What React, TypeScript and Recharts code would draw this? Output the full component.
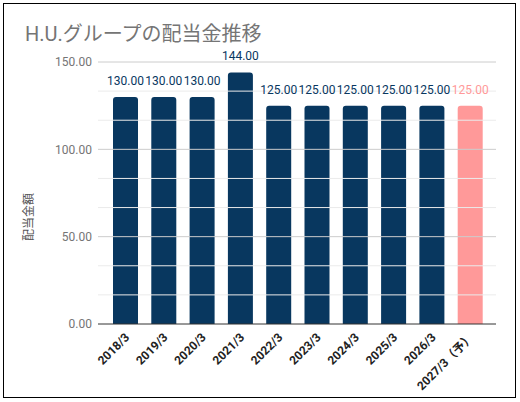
import React from 'react';
import { BarChart, Bar, XAxis, YAxis, ReferenceLine, Cell, LabelList } from 'recharts';

const categories = ['2018/3', '2019/3', '2020/3', '2021/3', '2022/3', '2023/3', '2024/3', '2025/3', '2026/3', '2027/3（予）'];
const dividends = [130, 130, 130, 144, 125, 125, 125, 125, 125, 125];
const forecast = [false, false, false, false, false, false, false, false, false, true];
const yTicks = [0, 50, 100, 150];
const minorGrid = [50 / 3, 100 / 3, 200 / 3, 250 / 3, 350 / 3, 400 / 3];

const data = categories.map((name, i) => ({ name, value: dividends[i], forecast: forecast[i] }));

const BAR = '#08375f';
const PINK = '#ff9999';
const FONT = 'Roboto, "Noto Sans CJK JP", sans-serif';

const XTick = ({ x, y, payload }: any) => (
  <g transform={`translate(${x + 5},${y + 6})`}>
    <text
      x={0}
      y={0}
      textAnchor="end"
      transform="rotate(-45)"
      fontSize={12}
      fontWeight="bold"
      fill="#222"
      fontFamily={FONT}
    >
      {payload.value}
    </text>
  </g>
);

const ValueLabel = ({ x, y, width, value, index }: any) => (
  <text
    x={x + width / 2}
    y={y - 12}
    textAnchor="middle"
    fontSize={12}
    fill={forecast[index] ? PINK : BAR}
    fontFamily={FONT}
  >
    {Number(value).toFixed(2)}
  </text>
);

const AxisTitle = ({ viewBox }: any) => {
  const cx = viewBox.x + 21;
  const cy = viewBox.y + viewBox.height / 2 + 24;
  return (
    <text
      x={cx}
      y={cy}
      transform={`rotate(-90 ${cx} ${cy})`}
      textAnchor="middle"
      dominantBaseline="central"
      fontSize={12}
      fill="#555"
      fontFamily={FONT}
    >
      配当金額
    </text>
  );
};

export default function App() {
  return (
    <div style={{ position: 'absolute', left: 0, top: 0, width: 520, height: 402, background: '#fff' }}>
      <div
        style={{
          position: 'absolute',
          left: 3,
          top: 3,
          width: 513,
          height: 395,
          boxSizing: 'border-box',
          border: '1.5px solid #000',
        }}
      />
      <div
        style={{
          position: 'absolute',
          left: 25,
          top: 18,
          fontSize: 20,
          color: '#757575',
          fontFamily: FONT,
          whiteSpace: 'nowrap',
        }}
      >
        H.U.グループの配当金推移
      </div>
      <div style={{ position: 'absolute', left: 0, top: 0 }}>
        <BarChart
          width={520}
          height={402}
          data={data}
          margin={{ top: 62, right: 24, left: 8, bottom: 8 }}
          barSize={25}
        >
          {minorGrid.map((v) => (
            <ReferenceLine key={`m${v}`} y={v} stroke="#ebebeb" strokeWidth={1} />
          ))}
          {yTicks.slice(1).map((v) => (
            <ReferenceLine key={`M${v}`} y={v} stroke="#cccccc" strokeWidth={1} />
          ))}
          <XAxis
            dataKey="name"
            interval={0}
            height={70}
            tickLine={false}
            axisLine={{ stroke: '#333', strokeWidth: 1 }}
            padding={{ left: 8, right: 7 }}
            tick={<XTick />}
          />
          <YAxis
            width={90}
            domain={[0, 150]}
            ticks={yTicks}
            axisLine={false}
            tickLine={false}
            tickSize={4}
            tickMargin={2}
            tickFormatter={(v: number) => v.toFixed(2)}
            tick={{ fontSize: 12, fill: '#757575', fontFamily: FONT }}
            label={{ content: <AxisTitle /> }}
          />
          <Bar dataKey="value" radius={[3, 3, 0, 0]} isAnimationActive={false}>
            {data.map((d, i) => (
              <Cell key={i} fill={d.forecast ? PINK : BAR} />
            ))}
            <LabelList dataKey="value" content={<ValueLabel />} />
          </Bar>
        </BarChart>
      </div>
    </div>
  );
}
